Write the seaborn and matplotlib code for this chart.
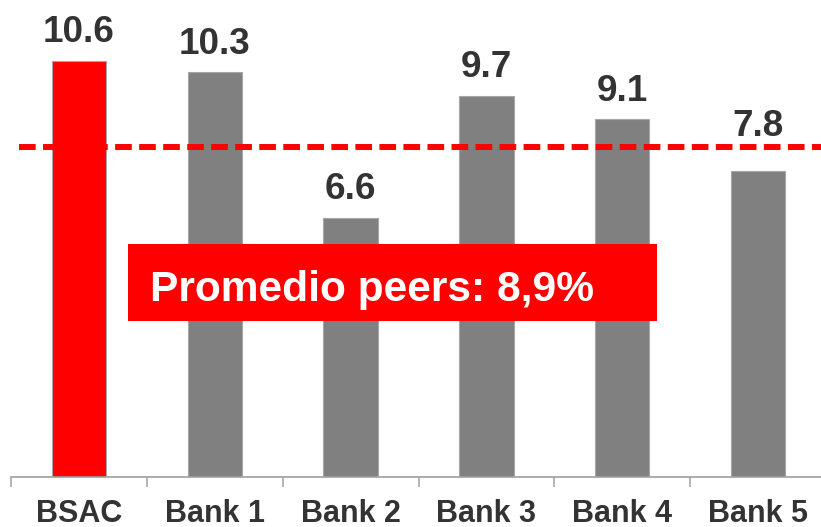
import matplotlib
matplotlib.use('Agg')
import matplotlib.pyplot as plt
from matplotlib.patches import Rectangle
import pandas as pd
import seaborn as sns

# Data
banks = ['BSAC', 'Bank 1', 'Bank 2', 'Bank 3', 'Bank 4', 'Bank 5']
values = [10.6, 10.3, 6.6, 9.7, 9.1, 7.8]
bar_colors = ['#ff0000', '#808080', '#808080', '#808080', '#808080', '#808080']
ref_line = 8.4
box_label = 'Promedio peers: 8,9%'

sns.set_style('white')
plt.rcParams['font.family'] = ['Liberation Sans', 'DejaVu Sans']
plt.rcParams['lines.scale_dashes'] = False

df = pd.DataFrame({'bank': banks, 'value': values})
text_color = '#333333'

fig = plt.figure(figsize=(8.21, 5.27), dpi=100)
ax = fig.add_axes([11 / 821, 50 / 527, 815 / 821, 477 / 527])

sns.barplot(data=df, x='bank', y='value', hue='bank', palette=bar_colors,
            legend=False, width=0.4, ax=ax, edgecolor='#a6a6a6', linewidth=0.8,
            saturation=1)

ax.set_xlim(-0.5, len(banks) - 0.5)
ax.set_ylim(0, 12.14)

# Value labels above bars (pushed above the dashed line when they would touch it)
for i, v in enumerate(values):
    y, off = v, 13.5
    if v < ref_line < v + 0.75:
        y, off = ref_line, 7.6
    ax.annotate(f'{v:.1f}', xy=(i, y), xytext=(0, off), textcoords='offset points',
                ha='center', va='baseline', fontsize=26.6, fontweight='bold',
                color=text_color)

# Dashed average line
ax.hlines(ref_line, -0.44, len(banks) - 0.5, colors='#ff0000', linewidth=4.3,
          linestyles=(0, (12.0, 5.3)), zorder=5)

# Axes styling
for side in ['left', 'top', 'right']:
    ax.spines[side].set_visible(False)
ax.spines['bottom'].set_color('#a0a0a0')
ax.spines['bottom'].set_linewidth(1.2)
ax.set_yticks([])
ax.set_xlabel('')
ax.set_ylabel('')
ax.set_xticks(range(len(banks)))
ax.set_xticklabels(banks, fontsize=22, fontweight='bold', color=text_color)
ax.set_xticks([i - 0.5 for i in range(len(banks) + 1)], minor=True)
ax.tick_params(axis='x', which='major', length=0, pad=15.5)
ax.tick_params(axis='x', which='minor', length=7.2, width=1.1, color='#a0a0a0',
               direction='out', bottom=True)

# Red annotation box
fig.patches.append(Rectangle((128 / 821, (527 - 321) / 527), 529 / 821, 77 / 527,
                             transform=fig.transFigure, facecolor='#ff0000',
                             edgecolor='none', zorder=2))
fig.text(150 / 821, (527 - 301) / 527, box_label, ha='left', va='baseline',
         fontsize=30.6, fontweight='bold', color='white', zorder=3)

fig.savefig('out.png', dpi=100)
